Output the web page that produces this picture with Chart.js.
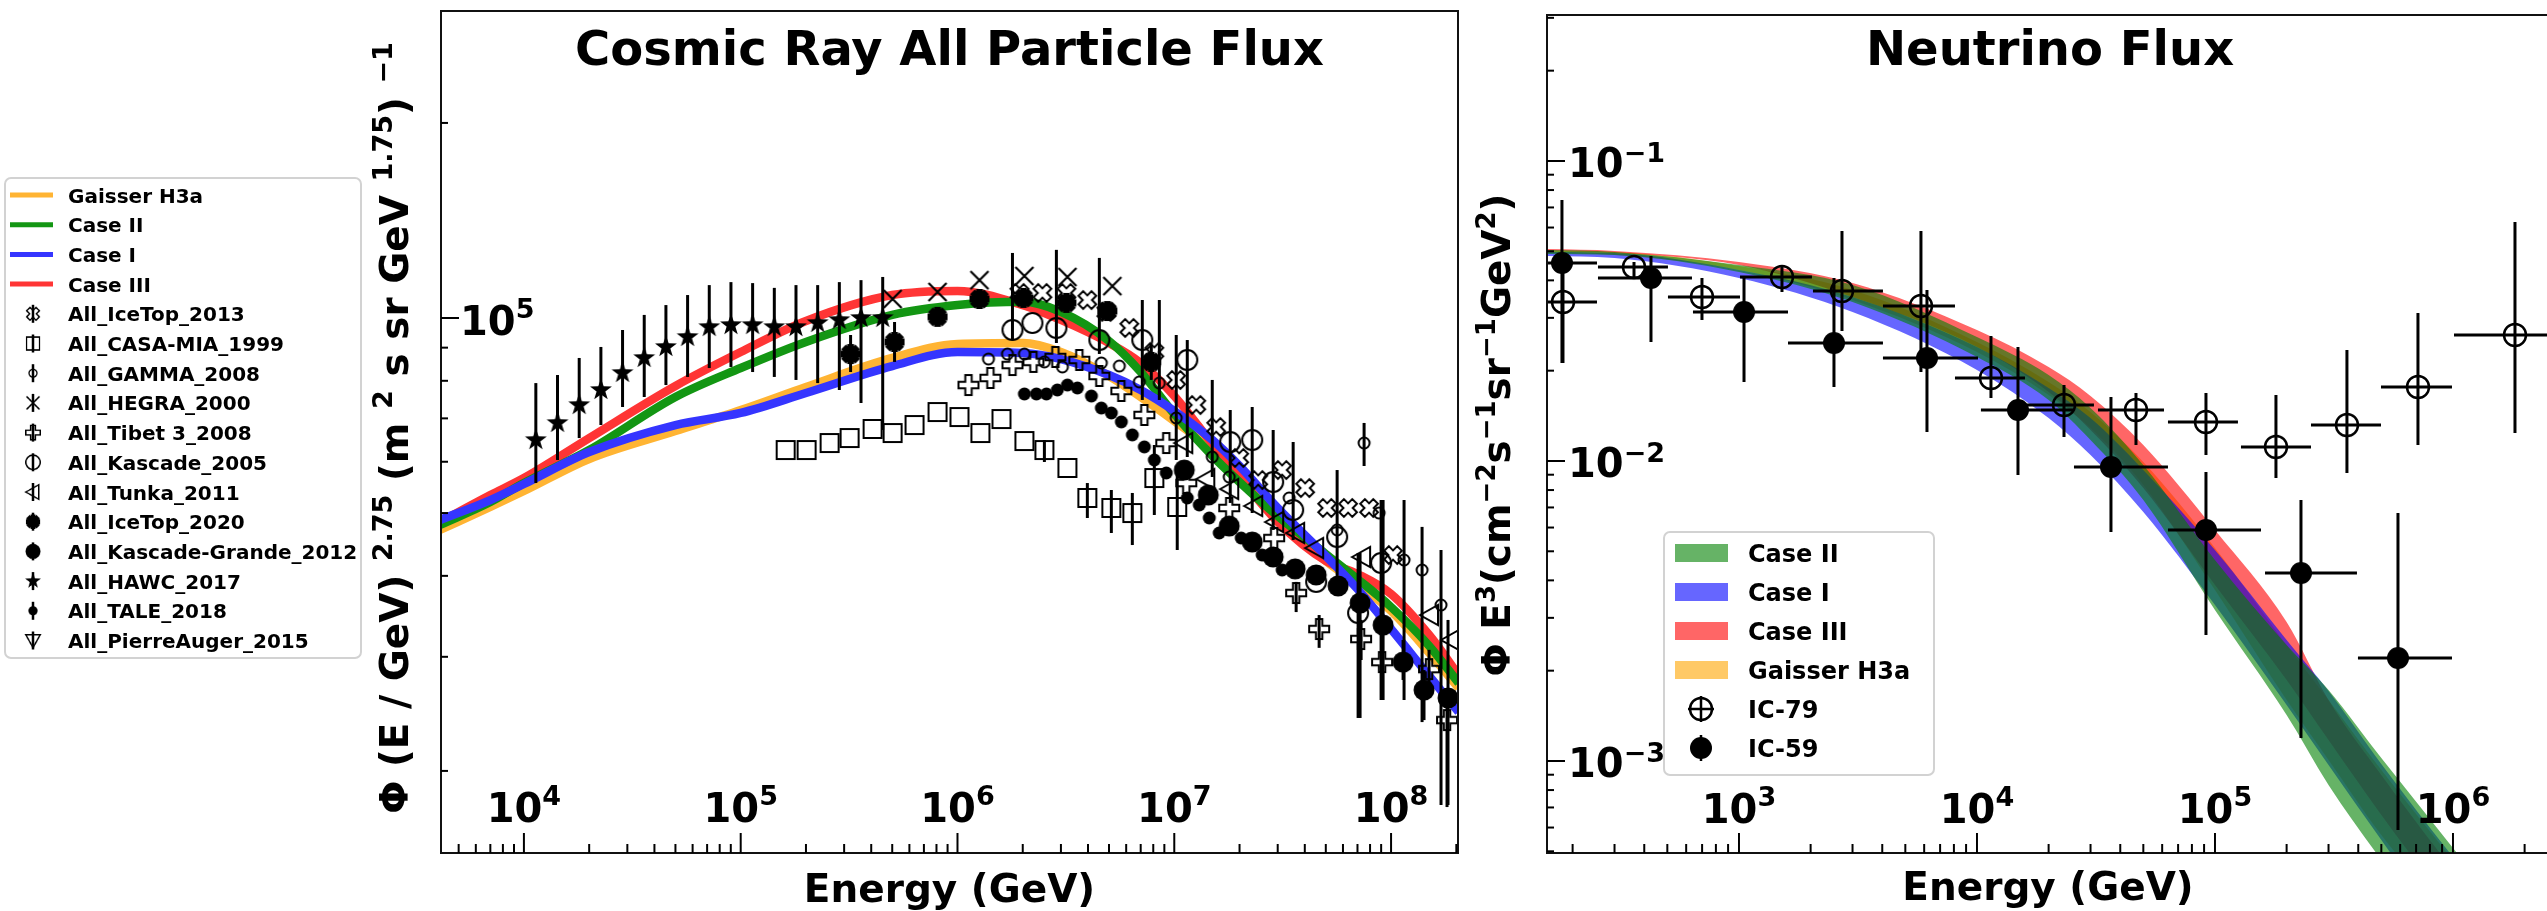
<!DOCTYPE html>
<html>
<head>
<meta charset="utf-8">
<script src="https://cdn.jsdelivr.net/npm/chart.js@4.4.1/dist/chart.umd.min.js"></script>
<style>
  html, body { margin: 0; padding: 0; background: #fff; overflow: hidden; width: 2547px; height: 911px; }
  #crBox { position: absolute; left: 0; top: 0; }
  #nuBox { position: absolute; left: 1465px; top: 0; }
</style>
</head>
<body>
<div id="crBox"><canvas id="crChart" width="1465" height="911"></canvas></div>
<div id="nuBox"><canvas id="nuChart" width="1100" height="911"></canvas></div>
<script>
// ---------------- cosmic ray panel ----------------
const crXTicks = [1e4, 1e5, 1e6, 1e7, 1e8];
const crXTickExp = ['4', '5', '6', '7', '8'];
const crYTicks = [1e5];
const crYTickExp = ['5'];

const crCurveEnergy = [4100, 7000, 1e4, 2e4, 5e4, 1e5, 2e5, 5e5, 1e6, 2e6, 3e6, 5e6, 7e6, 1e7, 1.5e7, 2e7, 3e7, 5e7, 7e7, 1e8, 1.5e8, 2.05e8];
const gaisserFlux = [47090, 51090, 54070, 60590, 66920, 72110, 78260, 86760, 91180, 91500, 88610, 81380, 75520, 69340, 62550, 57040, 49130, 42170, 38850, 35300, 30410, 26850];
const case2Flux = [47930, 52000, 55630, 62550, 75520, 83710, 91840, 101100, 104700, 105900, 102200, 92160, 82530, 71100, 61240, 55830, 49480, 43230, 39550, 35810, 31180, 27330];
const case1Flux = [48780, 52370, 55430, 62110, 68370, 71350, 76610, 84310, 88610, 88310, 86440, 81660, 77430, 71860, 64810, 59100, 50910, 42930, 38170, 33110, 28020, 24660];
const case3Flux = [48440, 53310, 56630, 65270, 78550, 88610, 98940, 108500, 110100, 104700, 99300, 91500, 85230, 75790, 63900, 56830, 48440, 42170, 40260, 37500, 32410, 28120];

const iceTop13E = [1.931e6, 2.465e6, 3.179e6, 3.972e6, 4.860e6, 6.203e6, 8.090e6, 1.021e7, 1.263e7, 1.561e7, 1.993e7, 2.439e7, 3.145e7, 4.015e7, 5.072e7, 6.337e7, 7.917e7, 1.021e8];
const iceTop13Flux = [109300, 109300, 109300, 106600, 102200, 96510, 88610, 80240, 73400, 67880, 60810, 56230, 58260, 54650, 50910, 50910, 50910, 43070];

const casaE = [1.612e5, 2.014e5, 2.571e5, 3.179e5, 4.058e5, 5.018e5, 6.337e5, 8.090e5, 1.021e6, 1.276e6, 1.595e6, 2.036e6, 2.517e6, 3.213e6, 3.972e6, 5.125e6, 6.405e6, 8.090e6, 1.032e7];
const casaFlux = [62550, 62550, 64130, 65270, 67410, 66450, 68370, 71600, 70340, 66450, 69840, 64580, 62550, 58690, 52750, 50910, 50010, 56630, 51090];
const casaLo = [null, null, null, null, null, null, null, null, null, null, null, null, 59950, null, 49130, 46580, 44630, 49660, 43850];
const casaHi = [null, null, null, null, null, null, null, null, null, null, null, null, 64810, null, 55630, 54270, 53700, 63680, 58900];

const gammaE = [1.390e6, 1.700e6, 2.036e6, 2.517e6, 3.047e6, 4.609e6, 5.579e6, 6.899e6, 8.532e6, 1.021e7, 1.497e7, 1.793e7, 3.388e7, 5.639e7, 7.509e7, 8.805e7, 1.148e8, 1.390e8, 1.700e8];
const gammaFlux = [86440, 87990, 87990, 85550, 84030, 85230, 84310, 79690, 79350, 70100, 61020, 56830, 52750, 47090, 64130, 50010, 42310, 40840, 36060];
const gammaLo = [null, null, null, null, null, null, null, null, 74730, 60380, 56830, null, null, null, 59100, null, 25730, 23790, 17720];
const gammaHi = [null, null, null, null, null, null, null, null, 106600, 94140, 80240, null, null, null, 68870, null, 52370, 47600, 43850];

const hegraE = [5.018e5, 8.090e5, 1.263e6, 2.036e6, 3.213e6, 5.180e6];
const hegraFlux = [107000, 109700, 114400, 116100, 115700, 112000];

const tibetE = [1.124e6, 1.419e6, 1.793e6, 2.240e6, 2.829e6, 3.649e6, 4.512e6, 5.699e6, 7.275e6, 9.187e6, 1.136e7, 1.793e7, 2.889e7, 3.649e7, 4.658e7, 7.275e7, 9.090e7, 1.497e8, 1.812e8];
const tibetFlux = [78800, 80800, 84610, 85550, 87060, 86140, 81380, 77160, 70850, 64130, 55630, 50910, 45750, 37630, 33110, 31960, 29440, 28720, 23960];
const tibetLo = [null, null, null, null, null, null, null, null, null, null, null, null, null, 35170, 30970, 29660, 25730, 26660, 17590];
const tibetHi = [null, null, null, null, null, null, null, null, null, null, null, null, null, 39150, 34800, 34200, 31850, 30750, 25730];

const kascadeE = [1.793e6, 2.216e6, 2.859e6, 4.512e6, 7.121e6, 1.148e7, 1.812e7, 2.288e7, 2.859e7, 3.535e7, 4.512e7, 5.639e7, 7.046e7, 8.995e7];
const kascadeFlux = [95830, 98240, 96510, 92470, 92470, 86140, 64360, 64810, 55830, 50550, 39150, 45920, 35050, 41870];
const kascadeLo = [92470, null, 91500, 88000, 74730, 61020, 51830, 50010, 47090, 45430, null, 39420, 24140, 25730];
const kascadeHi = [126000, null, 127400, 123800, 106600, 92470, 72110, 72890, 67170, 64360, null, 58260, 43390, 52370];

const tunkaE = [1.112e7, 1.405e7, 1.812e7, 2.337e7, 2.920e7, 3.649e7, 4.465e7, 7.353e7, 1.512e8, 1.890e8];
const tunkaFlux = [64130, 56430, 54460, 51280, 48440, 46580, 44160, 42780, 34800, 31850];

const iceTop20E = [3.213e5, 5.125e5, 8.090e5, 1.263e6, 2.014e6, 3.179e6, 4.913e6, 7.834e6];
const iceTop20Flux = [87990, 91840, 100400, 107000, 107400, 105500, 102500, 85550];
const iceTop20Lo = [82530, 85550, null, null, null, null, null, 80240];
const iceTop20Hi = [94140, 98590, null, null, null, null, null, 90850];

const kgE = [1.112e7, 1.435e7, 1.793e7, 2.288e7, 2.859e7, 3.611e7, 4.512e7, 5.699e7, 7.195e7, 9.188e7, 1.136e8, 1.419e8, 1.831e8];
const kgFlux = [58260, 53310, 47750, 45110, 42780, 41000, 40130, 38590, 36320, 33580, 29440, 26660, 25920];
const kgLo = [null, null, null, null, null, null, null, null, 24140, 25730, 27630, 23960, 17720];
const kgHi = [null, null, null, null, null, null, null, null, 43390, 52370, 31850, 28620, 34200];

const hawcE = [11350, 14290, 17990, 22650, 28510, 35890, 45190, 56890, 71610, 90160, 113500, 142900, 179900, 226500, 285100, 358900, 451900];
const hawcFlux = [64820, 68870, 73390, 77430, 82260, 86760, 90220, 93490, 96850, 97540, 97540, 96850, 96850, 98240, 99290, 100000, 100000];
const hawcLo = [55630, 60380, 65270, 68370, 72890, 75520, 78800, 81100, 83710, 84030, 82530, 81100, 80240, 79350, 77430, 73930, 67170];
const hawcHi = [79350, 81660, 86760, 90220, 95830, 101100, 104700, 108500, 112400, 113600, 113200, 111300, 112400, 112400, 113600, 114400, 115700];

const taleE = [2.036e6, 2.313e6, 2.571e6, 2.889e6, 3.213e6, 3.573e6, 4.146e6, 4.609e6, 5.125e6, 5.699e6, 6.405e6, 7.275e6, 8.090e6, 9.187e6, 1.148e7, 1.304e7, 1.450e7, 1.612e7, 2.036e7, 2.544e7, 3.145e7];
const taleFlux = [76340, 76340, 76340, 77430, 78800, 77980, 75790, 72620, 71350, 69120, 66000, 63250, 60380, 57650, 52750, 51460, 49130, 46580, 45750, 43070, 40840];

const augerE = [];
const augerFlux = [];

// ---------------- neutrino panel ----------------
const nuXTicks = [1e3, 1e4, 1e5, 1e6];
const nuXTickExp = ['3', '4', '5', '6'];
const nuYTicks = [1e-1, 1e-2, 1e-3];
const nuYTickExp = ['\u22121', '\u22122', '\u22123'];

const nuBandEnergy = [150, 300, 1000, 3000, 1e4, 2e4, 3e4, 5e4, 1e5, 2e5, 3e5, 5e5, 1e6, 2e6];
const case2Upper = [0.05050, 0.04973, 0.04500, 0.03861, 0.02590, 0.01934, 0.01502, 0.009698, 0.004677, 0.002436, 0.001725, 0.001023, 0.0005129, 0.0002531];
const case2Lower = [0.04898, 0.04860, 0.04266, 0.03388, 0.02222, 0.01598, 0.01175, 0.007413, 0.003186, 0.001422, 0.0008318, 0.0004677, 0.0002256, 0.0001131];
const case1Upper = [0.04973, 0.04935, 0.04332, 0.03521, 0.02399, 0.01751, 0.01390, 0.009333, 0.005050, 0.002531, 0.001711, 0.0009772, 0.0004786, 0.0002436];
const case1Lower = [0.04823, 0.04749, 0.04074, 0.03138, 0.02011, 0.01390, 0.01047, 0.006761, 0.003311, 0.001537, 0.0009698, 0.0005453, 0.0002531, 0.0001269];
const case3Upper = [0.05089, 0.05012, 0.04605, 0.03920, 0.02733, 0.02057, 0.01648, 0.01131, 0.005888, 0.002906, 0.001597, 0.0008983, 0.0004332, 0.0002172];
const case3Lower = [0.05012, 0.04935, 0.04500, 0.03521, 0.02399, 0.01698, 0.01269, 0.008128, 0.003861, 0.001862, 0.001175, 0.0006607, 0.0003187, 0.0001597];
const gaisserUpper = [0.05012, 0.04973, 0.04467, 0.03715, 0.02492, 0.01834, 0.01457, 0.009924, 0.005129, 0.002436, 0.001597, 0.0009333, 0.0004677, 0.0002344];
const gaisserLower = [0.04935, 0.04860, 0.04332, 0.03441, 0.02308, 0.01660, 0.01288, 0.008318, 0.003715, 0.001597, 0.001008, 0.0005666, 0.0002951, 0.0001479];

const ic79E = [182.2, 362.2, 699.1, 1516, 2709, 5816, 11450, 23210, 46570, 91660, 180400, 358500, 712700, 1822000];
const ic79ELo = [156.1, 255.6, 503.1, 1010, 2046, 4027, 8083, 15760, 32240, 63460, 128600, 253200, 498400, 1010000];
const ic79EHi = [253.2, 503.1, 1010, 2026, 4027, 8083, 15910, 31010, 61070, 124900, 253200, 498400, 990400, 3417000];
const ic79Flux = [0.03388, 0.04431, 0.03521, 0.04105, 0.03687, 0.03286, 0.01891, 0.01537, 0.01479, 0.01349, 0.01114, 0.01318, 0.01765, 0.02630];
const ic79Lo = [0.02122, 0.04074, 0.02951, 0.03658, 0.02711, 0.01980, 0.01622, 0.01202, 0.01131, 0.01047, 0.008779, 0.009120, 0.01131, 0.01240];
const ic79Hi = [0.04677, 0.04605, 0.04074, 0.04500, 0.05843, 0.05843, 0.02610, 0.01792, 0.01685, 0.01685, 0.01660, 0.02344, 0.03114, 0.06261];

const ic59E = [180.4, 426.9, 1050, 2507, 6165, 14870, 36560, 91660, 229800, 587400];
const ic59ELo = [156.1, 255.6, 640.8, 1607, 4027, 10390, 25560, 63460, 162300, 398800];
const ic59EHi = [253.2, 634.6, 1607, 4027, 10100, 25560, 63460, 156100, 395000, 990400];
const ic59Flux = [0.04571, 0.04074, 0.03138, 0.02473, 0.02204, 0.01479, 0.009550, 0.005888, 0.004232, 0.002204];
const ic59Lo = [0.02122, 0.02492, 0.01834, 0.01765, 0.01249, 0.008983, 0.005799, 0.002630, 0.001193, 0.0005888];
const ic59Hi = [0.07413, 0.04823, 0.04136, 0.04074, 0.03715, 0.02399, 0.01634, 0.009192, 0.007413, 0.006708];

// ---------------- helpers ----------------
const FONT = '"DejaVu Sans", "Liberation Sans", sans-serif';
const font = px => 'bold ' + px + 'px ' + FONT;

function pts(xs, ys) {
  return xs.map((v, i) => ({ x: v, y: ys[i] }));
}

function marker(size, draw) {
  const c = document.createElement('canvas');
  c.width = c.height = size;
  const g = c.getContext('2d');
  g.translate(size / 2, size / 2);
  g.strokeStyle = '#000';
  g.fillStyle = '#000';
  g.lineWidth = 2;
  draw(g);
  return c;
}

function plusPath(g, w, L) {
  const p = [[-w, -L], [w, -L], [w, -w], [L, -w], [L, w], [w, w], [w, L], [-w, L], [-w, w], [-L, w], [-L, -w], [-w, -w]];
  g.beginPath();
  p.forEach(([a, b], i) => i ? g.lineTo(a, b) : g.moveTo(a, b));
  g.closePath();
}

const mk = {
  star: marker(30, g => {
    g.beginPath();
    for (let i = 0; i < 10; i++) {
      const r = i % 2 ? 4.6 : 11.5, t = -Math.PI / 2 + i * Math.PI / 5;
      g.lineTo(r * Math.cos(t), r * Math.sin(t));
    }
    g.closePath(); g.fill();
  }),
  cross: marker(28, g => {
    g.lineWidth = 2.2; g.beginPath();
    g.moveTo(-9, -9); g.lineTo(9, 9); g.moveTo(9, -9); g.lineTo(-9, 9); g.stroke();
  }),
  plusOpen: marker(28, g => { plusPath(g, 3.2, 10); g.stroke(); }),
  xOpen: marker(28, g => { g.rotate(Math.PI / 4); plusPath(g, 3.3, 9.2); g.stroke(); }),
  aster: marker(28, g => {
    plusPath(g, 3.4, 10); g.fill();
    g.rotate(Math.PI / 4); plusPath(g, 3.4, 10); g.fill();
  }),
  circleBig: marker(28, g => { g.beginPath(); g.arc(0, 0, 10, 0, 2 * Math.PI); g.stroke(); }),
  circleSmall: marker(20, g => { g.beginPath(); g.arc(0, 0, 5.5, 0, 2 * Math.PI); g.stroke(); }),
  dotSmall: marker(20, g => { g.beginPath(); g.arc(0, 0, 6.5, 0, 2 * Math.PI); g.fill(); }),
  dotBig: marker(28, g => { g.beginPath(); g.arc(0, 0, 10.5, 0, 2 * Math.PI); g.fill(); }),
  square: marker(28, g => { g.strokeRect(-9, -9, 18, 18); }),
  triLeft: marker(28, g => {
    g.beginPath(); g.moveTo(-10, 0); g.lineTo(8, -10); g.lineTo(8, 10); g.closePath(); g.stroke();
  }),
  triDown: marker(28, g => {
    g.beginPath(); g.moveTo(-10, -8); g.lineTo(10, -8); g.lineTo(0, 10); g.closePath(); g.stroke();
  }),
  icFilled: marker(28, g => { g.beginPath(); g.arc(0, 0, 11, 0, 2 * Math.PI); g.fill(); }),
  icOpen: marker(30, g => { g.lineWidth = 2.5; g.beginPath(); g.arc(0, 0, 11, 0, 2 * Math.PI); g.stroke(); })
};

function drawRich(ctx, parts, x, y, align) {
  let w = 0;
  parts.forEach(p => { ctx.font = font(p.s); w += ctx.measureText(p.t).width; });
  let cx = align === 'center' ? x - w / 2 : x;
  ctx.textAlign = 'left';
  ctx.textBaseline = 'alphabetic';
  ctx.fillStyle = '#000';
  parts.forEach(p => {
    ctx.font = font(p.s);
    ctx.fillText(p.t, cx, y - (p.r || 0));
    cx += ctx.measureText(p.t).width;
  });
}
const big = (t, s) => ({ t, s: s || 40 });
const sup = (t, s, r) => ({ t, s: s || 27, r: r || 17 });
const powLabel = e => [big('10'), sup(e)];

function drawLogTicks(ctx, scale, a, axis, majorLen, minorLen) {
  const lo = Math.floor(Math.log10(scale.min)), hi = Math.ceil(Math.log10(scale.max));
  ctx.lineWidth = 2;
  ctx.strokeStyle = '#000';
  for (let k = lo; k <= hi; k++) {
    for (let m = 1; m <= 9; m++) {
      const v = m * Math.pow(10, k);
      if (v < scale.min || v > scale.max) continue;
      const p = scale.getPixelForValue(v), len = m === 1 ? majorLen : minorLen;
      ctx.beginPath();
      if (axis === 'x') { ctx.moveTo(p, a.bottom); ctx.lineTo(p, a.bottom - len); }
      else { ctx.moveTo(a.left, p); ctx.lineTo(a.left + len, p); }
      ctx.stroke();
    }
  }
}

function legendBox(ctx, x0, y0, x1, y1) {
  ctx.beginPath();
  if (ctx.roundRect) ctx.roundRect(x0, y0, x1 - x0, y1 - y0, 6); else ctx.rect(x0, y0, x1 - x0, y1 - y0);
  ctx.fillStyle = 'rgba(255,255,255,0.85)';
  ctx.fill();
  ctx.strokeStyle = '#d2d2d2';
  ctx.lineWidth = 2;
  ctx.stroke();
}

function frame(ctx, a) {
  ctx.strokeStyle = '#111';
  ctx.lineWidth = 2;
  ctx.strokeRect(a.left, a.top, a.right - a.left, a.bottom - a.top);
}

// error bars are read from the datasets and placed with the chart's own scales
const errorBars = {
  id: 'errorBars',
  afterDatasetsDraw(chart) {
    const { ctx, chartArea: a, scales: { x, y } } = chart;
    ctx.save();
    ctx.beginPath();
    ctx.rect(a.left, a.top, a.right - a.left, a.bottom - a.top);
    ctx.clip();
    ctx.strokeStyle = '#000';
    chart.data.datasets.forEach(ds => {
      if (!ds.yLo && !ds.xLo) return;
      ctx.lineWidth = ds.barWidth || 3;
      ds.data.forEach((p, i) => {
        const px = x.getPixelForValue(p.x), py = y.getPixelForValue(p.y);
        ctx.beginPath();
        if (ds.yLo && ds.yLo[i] != null) {
          ctx.moveTo(px, y.getPixelForValue(ds.yHi[i]));
          ctx.lineTo(px, y.getPixelForValue(ds.yLo[i]));
        }
        if (ds.xLo && ds.xLo[i] != null) {
          ctx.moveTo(x.getPixelForValue(ds.xLo[i]), py);
          ctx.lineTo(x.getPixelForValue(ds.xHi[i]), py);
        }
        ctx.stroke();
      });
    });
    ctx.restore();
  }
};

// ---------------- cosmic ray chart ----------------
const crLines = [
  { label: 'Gaisser H3a', flux: gaisserFlux, color: '#ffb433', order: 4 },
  { label: 'Case II', flux: case2Flux, color: '#139613', order: 2 },
  { label: 'Case I', flux: case1Flux, color: '#3535ff', order: 1 },
  { label: 'Case III', flux: case3Flux, color: '#ff3535', order: 3 }
];
const crSets = [
  { label: 'All_IceTop_2013', x: iceTop13E, y: iceTop13Flux, m: mk.xOpen },
  { label: 'All_CASA-MIA_1999', x: casaE, y: casaFlux, m: mk.square, lo: casaLo, hi: casaHi },
  { label: 'All_GAMMA_2008', x: gammaE, y: gammaFlux, m: mk.circleSmall, lo: gammaLo, hi: gammaHi },
  { label: 'All_HEGRA_2000', x: hegraE, y: hegraFlux, m: mk.cross },
  { label: 'All_Tibet 3_2008', x: tibetE, y: tibetFlux, m: mk.plusOpen, lo: tibetLo, hi: tibetHi },
  { label: 'All_Kascade_2005', x: kascadeE, y: kascadeFlux, m: mk.circleBig, lo: kascadeLo, hi: kascadeHi },
  { label: 'All_Tunka_2011', x: tunkaE, y: tunkaFlux, m: mk.triLeft },
  { label: 'All_IceTop_2020', x: iceTop20E, y: iceTop20Flux, m: mk.aster, lo: iceTop20Lo, hi: iceTop20Hi },
  { label: 'All_Kascade-Grande_2012', x: kgE, y: kgFlux, m: mk.dotBig, lo: kgLo, hi: kgHi },
  { label: 'All_HAWC_2017', x: hawcE, y: hawcFlux, m: mk.star, lo: hawcLo, hi: hawcHi },
  { label: 'All_TALE_2018', x: taleE, y: taleFlux, m: mk.dotSmall },
  { label: 'All_PierreAuger_2015', x: augerE, y: augerFlux, m: mk.triDown }
];

const crDecor = {
  id: 'crDecor',
  afterDraw(chart) {
    const { ctx, chartArea: a, scales: { x, y } } = chart;
    ctx.save();
    frame(ctx, a);
    drawLogTicks(ctx, x, a, 'x', 20, 9);
    drawLogTicks(ctx, y, a, 'y', 18, 7);
    crXTicks.forEach((v, i) => drawRich(ctx, powLabel(crXTickExp[i]), x.getPixelForValue(v), 822, 'center'));
    crYTicks.forEach((v, i) => drawRich(ctx, powLabel(crYTickExp[i]), a.left + 19, y.getPixelForValue(v) + 17, 'left'));

    ctx.fillStyle = '#000';
    ctx.textAlign = 'center';
    ctx.font = font(48);
    ctx.fillText('Cosmic Ray All Particle Flux', (a.left + a.right) / 2, 65);
    ctx.font = font(39);
    ctx.fillText('Energy (GeV)', (a.left + a.right) / 2, 902);

    ctx.save();
    ctx.translate(408, 428);
    ctx.rotate(-Math.PI / 2);
    drawRich(ctx, [big('\u03A6 (E / GeV) ', 39), sup('2.75', 27, 16), big(' (m ', 39), sup('2', 27, 16),
      big(' s sr GeV ', 39), sup('1.75', 27, 16), big(') ', 39), sup('\u22121', 27, 16)], 0, 0, 'center');
    ctx.restore();

    // legend
    legendBox(ctx, 5, 178, 361, 658);
    const rowY = i => 195 + i * 29.7;
    crLines.forEach((l, i) => {
      const cy = rowY(i);
      ctx.strokeStyle = l.color; ctx.lineWidth = 5;
      ctx.beginPath(); ctx.moveTo(10, cy); ctx.lineTo(53, cy); ctx.stroke();
    });
    crSets.forEach((s, j) => {
      const cy = rowY(j + 4), sz = s.m.width * 0.72;
      ctx.strokeStyle = '#000'; ctx.lineWidth = 2.5;
      ctx.beginPath(); ctx.moveTo(33, cy - 9); ctx.lineTo(33, cy + 9); ctx.stroke();
      ctx.drawImage(s.m, 33 - sz / 2, cy - sz / 2, sz, sz);
    });
    const labels = crLines.map(l => l.label).concat(crSets.map(s => s.label));
    ctx.font = font(20);
    ctx.textAlign = 'left';
    ctx.fillStyle = '#000';
    labels.forEach((t, i) => ctx.fillText(t, 68, rowY(i) + 7.5));
    ctx.restore();
  }
};

const crDatasets = crSets.map(s => ({
  label: s.label,
  data: pts(s.x, s.y),
  showLine: false,
  pointStyle: s.m,
  pointRadius: 6,
  yLo: s.lo, yHi: s.hi,
  clip: 0,
  order: 0
})).concat(crLines.map(l => ({
  label: l.label,
  data: pts(crCurveEnergy, l.flux),
  showLine: true,
  borderColor: l.color,
  borderWidth: 8.5,
  pointRadius: 0,
  cubicInterpolationMode: 'monotone',
  fill: false,
  clip: 0,
  order: l.order
})));

new Chart(document.getElementById('crChart'), {
  type: 'scatter',
  data: { datasets: crDatasets },
  options: {
    responsive: false,
    devicePixelRatio: 1,
    animation: false,
    events: [],
    layout: { padding: { left: 441, right: 6, top: 11, bottom: 58 } },
    scales: {
      x: { type: 'logarithmic', min: 4145, max: 2.036e8, display: false },
      y: { type: 'logarithmic', min: 1.494e4, max: 2.977e5, display: false }
    },
    plugins: { legend: { display: false }, tooltip: { enabled: false } }
  },
  plugins: [errorBars, crDecor]
});

// ---------------- neutrino chart ----------------
const nuBands = [
  { label: 'Case II', up: case2Upper, lo: case2Lower, color: 'rgba(0,128,0,0.6)' },
  { label: 'Case I', up: case1Upper, lo: case1Lower, color: 'rgba(0,0,255,0.6)' },
  { label: 'Case III', up: case3Upper, lo: case3Lower, color: 'rgba(255,0,0,0.6)' },
  { label: 'Gaisser H3a', up: gaisserUpper, lo: gaisserLower, color: 'rgba(255,165,0,0.6)' }
];
const OFF = 1465;

const nuDecor = {
  id: 'nuDecor',
  afterDraw(chart) {
    const { ctx, chartArea: a, scales: { x, y } } = chart;
    ctx.save();
    frame(ctx, a);
    drawLogTicks(ctx, x, a, 'x', 20, 9);
    drawLogTicks(ctx, y, a, 'y', 18, 7);
    nuXTicks.forEach((v, i) => drawRich(ctx, powLabel(nuXTickExp[i]), x.getPixelForValue(v), 823, 'center'));
    nuYTicks.forEach((v, i) => drawRich(ctx, [big('10'), sup(nuYTickExp[i], 27, 15)], a.left + 21, y.getPixelForValue(v) + 16, 'left'));

    ctx.fillStyle = '#000';
    ctx.textAlign = 'center';
    ctx.font = font(48);
    ctx.fillText('Neutrino Flux', 2050 - OFF, 65);
    ctx.font = font(39);
    ctx.fillText('Energy (GeV)', 2048 - OFF, 900);

    ctx.save();
    ctx.translate(1510 - OFF, 435);
    ctx.rotate(-Math.PI / 2);
    drawRich(ctx, [big('\u03A6 E', 39), sup('3', 26, 15), big('(cm', 39), sup('\u22122', 26, 15), big('s', 39),
      sup('\u22121', 26, 15), big('sr', 39), sup('\u22121', 26, 15), big('GeV', 39), sup('2', 26, 15), big(')', 39)], 0, 0, 'center');
    ctx.restore();

    // legend
    legendBox(ctx, 1664 - OFF, 532, 1934 - OFF, 775);
    const rowY = i => 553 + i * 39;
    nuBands.forEach((b, i) => {
      ctx.fillStyle = b.color;
      ctx.fillRect(1675 - OFF, rowY(i) - 9, 53, 18);
    });
    const mx = 1701 - OFF;
    ctx.strokeStyle = '#000'; ctx.lineWidth = 2.5;
    ctx.beginPath();
    ctx.moveTo(mx, rowY(4) - 13); ctx.lineTo(mx, rowY(4) + 13);
    ctx.moveTo(mx - 13, rowY(4)); ctx.lineTo(mx + 13, rowY(4));
    ctx.moveTo(mx, rowY(5) - 13); ctx.lineTo(mx, rowY(5) + 13);
    ctx.stroke();
    ctx.drawImage(mk.icOpen, mx - mk.icOpen.width / 2, rowY(4) - mk.icOpen.height / 2);
    ctx.drawImage(mk.icFilled, mx - mk.icFilled.width / 2, rowY(5) - mk.icFilled.height / 2);
    ctx.font = font(24);
    ctx.textAlign = 'left';
    ctx.fillStyle = '#000';
    nuBands.map(b => b.label).concat(['IC-79', 'IC-59']).forEach((t, i) => ctx.fillText(t, 1748 - OFF, rowY(i) + 8.5));
    ctx.restore();
  }
};

const nuDatasets = [
  { label: 'IC-79', data: pts(ic79E, ic79Flux), showLine: false, pointStyle: mk.icOpen, pointRadius: 6,
    xLo: ic79ELo, xHi: ic79EHi, yLo: ic79Lo, yHi: ic79Hi, clip: 0, order: 0 },
  { label: 'IC-59', data: pts(ic59E, ic59Flux), showLine: false, pointStyle: mk.icFilled, pointRadius: 6,
    xLo: ic59ELo, xHi: ic59EHi, yLo: ic59Lo, yHi: ic59Hi, clip: 0, order: 0 }
];
// band order: Gaisser at the bottom, Case II on top
nuBands.forEach((b, i) => {
  nuDatasets.push({ label: b.label + ' upper', data: pts(nuBandEnergy, b.up), showLine: true, borderWidth: 0,
    pointRadius: 0, fill: '+1', backgroundColor: b.color, cubicInterpolationMode: 'monotone', clip: 0, order: 1 + i });
  nuDatasets.push({ label: b.label + ' lower', data: pts(nuBandEnergy, b.lo), showLine: true, borderWidth: 0,
    pointRadius: 0, fill: false, cubicInterpolationMode: 'monotone', clip: 0, order: 1 + i });
});

new Chart(document.getElementById('nuChart'), {
  type: 'scatter',
  data: { datasets: nuDatasets },
  options: {
    responsive: false,
    devicePixelRatio: 1,
    animation: false,
    events: [],
    layout: { padding: { left: 82, right: 12, top: 15, bottom: 58 } },
    scales: {
      x: { type: 'logarithmic', min: 156.1, max: 2.632e6, display: false },
      y: { type: 'logarithmic', min: 4.935e-4, max: 0.3066, display: false }
    },
    plugins: { legend: { display: false }, tooltip: { enabled: false } }
  },
  plugins: [errorBars, nuDecor]
});
</script>
</body>
</html>
